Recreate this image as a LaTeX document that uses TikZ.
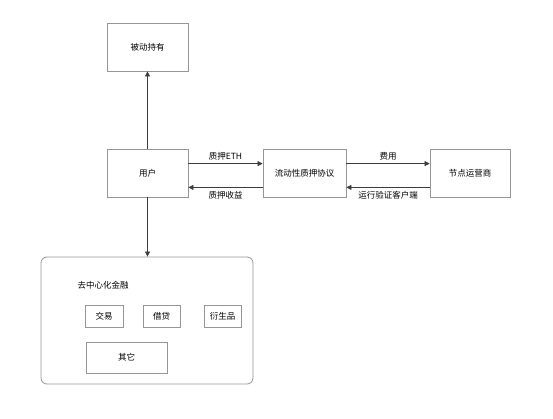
\documentclass[tikz,border=0pt]{standalone}
\usepackage{fontspec}
\setmainfont{Noto Sans CJK SC}
\usetikzlibrary{arrows.meta, positioning}
\definecolor{boxgray}{RGB}{150, 150, 150}
\definecolor{linegray}{RGB}{60, 60, 60}

\begin{document}
\begin{tikzpicture}[
    x=1pt, y=-1pt,
    box/.style={rectangle, draw=boxgray, line width=0.8pt, fill=white, font=\fontsize{8.5}{10}\selectfont},
    flow/.style={draw=linegray, line width=0.6pt, -{Triangle[width=5pt, length=5pt]}},
    lbl/.style={font=\fontsize{8.5}{10}\selectfont}
]
\useasboundingbox (0,0) rectangle (553,418);

% === Nodos principales ===
\node[box, minimum width=81pt, minimum height=48pt] (hold) at (147.5,47) {被动持有};
\node[box, minimum width=81pt, minimum height=48pt] (user) at (147.5,173) {用户};
\node[box, minimum width=83pt, minimum height=48pt] (proto) at (304.5,173) {流动性质押协议};
\node[box, minimum width=80pt, minimum height=48pt] (node) at (470,173) {节点运营商};

% === Contenedor DeFi ===
\node[box, rounded corners=6pt, minimum width=212pt, minimum height=127pt] (defi) at (147,320.5) {};
\node[lbl] (defititle) at (103,285) {去中心化金融};
\node[box, minimum width=38pt, minimum height=22pt] (trade) at (104,316) {交易};
\node[box, minimum width=37pt, minimum height=22pt] (lend) at (161.5,316) {借贷};
\node[box, minimum width=37pt, minimum height=22pt] (deriv) at (222.5,316) {衍生品};
\node[box, minimum width=81pt, minimum height=31pt] (other) at (126.5,357.5) {其它};

% === Flechas ===
\draw[flow] (user.north) -- (hold.south);
\draw[flow] (user.south) -- (defi.north -| user.south);

\draw[flow] ([yshift=-15pt]user.north east) -- node[lbl, above] {质押ETH} ([yshift=-15pt]proto.north west);
\draw[flow] ([yshift=10pt]proto.south west) -- node[lbl, below] {质押收益} ([yshift=10pt]user.south east);
\draw[flow] ([yshift=-15pt]proto.north east) -- node[lbl, above] {费用} ([yshift=-15pt]node.north west);
\draw[flow] ([yshift=10pt]node.south west) -- node[lbl, below] {运行验证客户端} ([yshift=10pt]proto.south east);

\end{tikzpicture}
\end{document}
